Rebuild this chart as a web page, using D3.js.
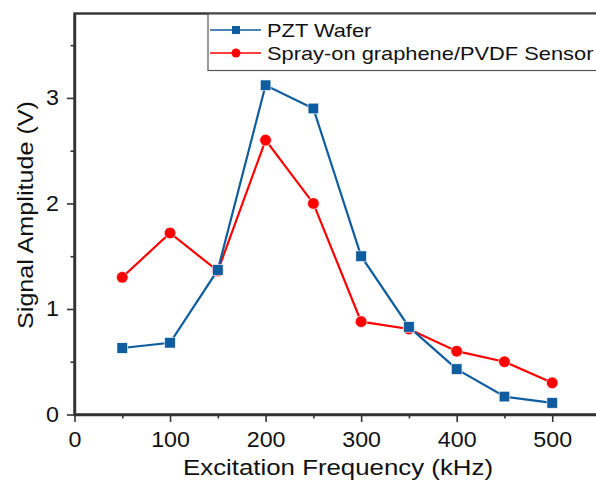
<!DOCTYPE html>
<html>
<head>
<meta charset="utf-8">
<script src="https://cdn.jsdelivr.net/npm/d3@7"></script>
<style>
  body { margin: 0; background: #fff; }
  svg { display: block; font-family: "Liberation Sans", Arial, sans-serif; }
</style>
</head>
<body>
<div id="chart"></div>
<script>
// data
const freqs = [50, 100, 150, 200, 250, 300, 350, 400, 450, 500];
const pztWafer = [0.63, 0.68, 1.37, 3.12, 2.90, 1.50, 0.83, 0.43, 0.17, 0.11];
const sprayOn = [1.30, 1.72, 1.36, 2.60, 2.00, 0.88, 0.81, 0.60, 0.50, 0.30];
const xTicks = [0, 100, 200, 300, 400, 500];
const yTicks = [0, 1, 2, 3];
const seriesNames = ['PZT Wafer', 'Spray-on graphene/PVDF Sensor'];

const width = 596, height = 480;
const svg = d3.select('#chart').append('svg')
  .attr('width', width)
  .attr('height', height);

const x = d3.scaleLinear().domain([0, 550]).range([74.5, 600]);
const y = d3.scaleLinear().domain([0, 3.8]).range([414.5, 13.5]);

// stretch text a little wider, the original glyphs are wide
function widen(sel, k) {
  sel.each(function () {
    const len = this.getComputedTextLength();
    d3.select(this).attr('textLength', len * k).attr('lengthAdjust', 'spacingAndGlyphs');
  });
}

// frame
svg.append('rect')
  .attr('x', x(0)).attr('y', y(3.8))
  .attr('width', 600 - x(0)).attr('height', y(0) - y(3.8))
  .attr('fill', 'none').attr('stroke', '#333').attr('stroke-width', 2.4);

// axes
svg.append('g')
  .attr('class', 'major')
  .attr('transform', `translate(0,${y(0)})`)
  .call(d3.axisBottom(x).tickValues(xTicks).tickSize(7.5).tickSizeOuter(0).tickPadding(10));
svg.append('g')
  .attr('transform', `translate(0,${y(0)})`)
  .call(d3.axisBottom(x).tickValues(d3.range(50, 550, 100)).tickSize(4).tickFormat(''))
  .select('.domain').remove();
svg.append('g')
  .attr('class', 'major')
  .attr('transform', `translate(${x(0)},0)`)
  .call(d3.axisLeft(y).tickValues(yTicks).tickFormat(d3.format('d'))
    .tickSize(7.5).tickSizeOuter(0).tickPadding(8));
svg.append('g')
  .attr('transform', `translate(${x(0)},0)`)
  .call(d3.axisLeft(y).tickValues([0.5, 1.5, 2.5, 3.5]).tickSize(4).tickFormat(''))
  .select('.domain').remove();

svg.selectAll('.domain').attr('stroke', '#333').attr('stroke-width', 2.4);
svg.selectAll('.tick line').attr('stroke', '#333').attr('stroke-width', 1.6);
svg.selectAll('.major .tick text')
  .attr('font-size', 21.5)
  .attr('fill', '#111')
  .attr('font-family', '"Liberation Sans", Arial, sans-serif')
  .call(widen, 1.08);

// axis titles
svg.append('text')
  .attr('x', 338).attr('y', 475)
  .attr('text-anchor', 'middle')
  .attr('font-size', 22)
  .attr('fill', '#111')
  .attr('textLength', 310).attr('lengthAdjust', 'spacingAndGlyphs')
  .text('Excitation Frequency (kHz)');
svg.append('text')
  .attr('transform', 'translate(33,215) rotate(-90)')
  .attr('text-anchor', 'middle')
  .attr('font-size', 22)
  .attr('fill', '#111')
  .attr('textLength', 228).attr('lengthAdjust', 'spacingAndGlyphs')
  .text('Signal Amplitude (V)');

const blue = '#0f5c9e', red = '#ff0000';

const line = d3.line().x(d => x(d[0])).y(d => y(d[1]));
const pztData = freqs.map((f, i) => [f, pztWafer[i]]);
const sprayData = freqs.map((f, i) => [f, sprayOn[i]]);

svg.append('path').datum(sprayData)
  .attr('d', line).attr('fill', 'none')
  .attr('stroke', red).attr('stroke-width', 2.2);
svg.append('path').datum(pztData)
  .attr('d', line).attr('fill', 'none')
  .attr('stroke', blue).attr('stroke-width', 2.2);

svg.selectAll('.spray').data(sprayData).join('circle')
  .attr('class', 'spray')
  .attr('cx', d => x(d[0])).attr('cy', d => y(d[1]))
  .attr('r', 5.8).attr('fill', red)
  .attr('stroke', '#fff').attr('stroke-width', 0.6);
svg.selectAll('.pzt').data(pztData).join('rect')
  .attr('class', 'pzt')
  .attr('x', d => x(d[0]) - 5.3).attr('y', d => y(d[1]) - 5.3)
  .attr('width', 10.6).attr('height', 10.6)
  .attr('fill', blue)
  .attr('stroke', '#fff').attr('stroke-width', 0.6);

// legend
const legend = svg.append('g');
legend.append('rect')
  .attr('x', 208).attr('y', 14)
  .attr('width', 400).attr('height', 56.5)
  .attr('fill', '#fff').attr('stroke', '#555').attr('stroke-width', 1.2);
const items = [
  { label: seriesNames[0], color: blue, shape: 'square', cy: 30 },
  { label: seriesNames[1], color: red, shape: 'circle', cy: 53 }
];
items.forEach(it => {
  legend.append('line')
    .attr('x1', 210).attr('x2', 261)
    .attr('y1', it.cy).attr('y2', it.cy)
    .attr('stroke', it.color).attr('stroke-width', 1.6);
  if (it.shape === 'square') {
    legend.append('rect')
      .attr('x', 232).attr('y', it.cy - 4)
      .attr('width', 8).attr('height', 8).attr('fill', it.color);
  } else {
    legend.append('circle')
      .attr('cx', 236).attr('cy', it.cy).attr('r', 4.5).attr('fill', it.color);
  }
  legend.append('text')
    .attr('x', 267).attr('y', it.cy + 6.5)
    .attr('font-size', 18.5)
    .attr('fill', '#111')
    .text(it.label)
    .call(widen, 1.18);
});
</script>
</body>
</html>
